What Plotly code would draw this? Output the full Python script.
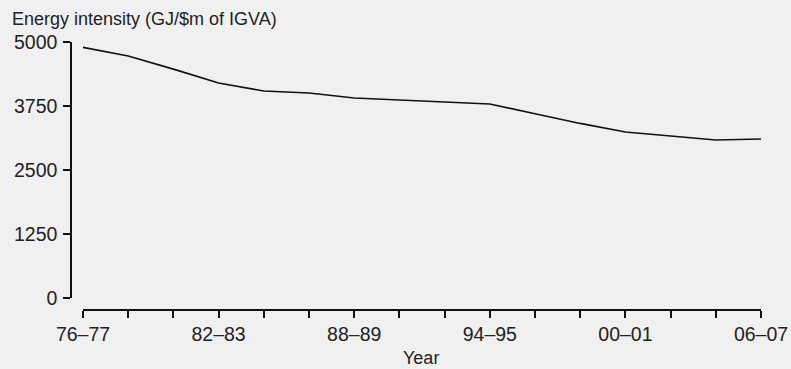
import plotly.graph_objects as go

years = ["76–77", "78–79", "80–81", "82–83", "84–85", "86–87", "88–89", "90–91",
         "92–93", "94–95", "96–97", "98–99", "00–01", "02–03", "04–05", "06–07"]
intensity = [4896, 4727, 4470, 4199, 4043, 4004, 3906, 3867,
             3828, 3789, 3600, 3410, 3242, 3164, 3086, 3105]
y_ticks = [0, 1250, 2500, 3750, 5000]
x_labels = [y if i % 3 == 0 else "" for i, y in enumerate(years)]

W, H = 791, 369
L, R, T, B = 71, 30, 42, 59
pw, ph = W - L - R, H - T - B
x_dom0 = (83 - L) / pw
y_dom0 = (310 - 298) / ph

font = "Liberation Sans, Arial, sans-serif"
txt = "#222222"
bg = "#f0f0f0"

fig = go.Figure(go.Scatter(
    x=years, y=intensity, mode="lines",
    line=dict(color="#111111", width=1.6),
    hoverinfo="skip"))

fig.update_layout(
    width=W, height=H, autosize=False,
    margin=dict(l=L, r=R, t=T, b=B, pad=0, autoexpand=False),
    paper_bgcolor=bg, plot_bgcolor=bg,
    showlegend=False,
    font=dict(family=font, color=txt, size=19),
    xaxis=dict(
        type="category", domain=[x_dom0, 1], anchor="free", position=0,
        range=[0, len(years) - 1], automargin=False,
        tickmode="array", tickvals=years, ticktext=x_labels,
        ticks="outside", ticklen=7, tickwidth=1.5, tickcolor="#111111",
        showline=True, linecolor="#111111", linewidth=1.5,
        showgrid=False, zeroline=False,
        tickfont=dict(size=19.5, color=txt),
    ),
    yaxis=dict(
        domain=[y_dom0, 1], anchor="free", position=0, automargin=False,
        range=[0, 5000], tickvals=y_ticks,
        ticks="outside", ticklen=7, tickwidth=1.5, tickcolor="#111111",
        showline=True, linecolor="#111111", linewidth=1.5,
        showgrid=False, zeroline=False,
        tickfont=dict(size=19.5, color=txt),
        ticklabelstandoff=2,
    ),
    annotations=[
        dict(text="Energy intensity (GJ/$m of IGVA)", xref="paper", yref="paper",
             x=(10 - L) / pw, y=(H - B - 19) / ph, xanchor="left", yanchor="middle",
             showarrow=False, font=dict(size=18, color=txt)),
        dict(text="Year", xref="paper", yref="paper",
             x=(421 - L) / pw, y=(H - B - 358) / ph, xanchor="center", yanchor="middle",
             showarrow=False, font=dict(size=18, color=txt)),
    ],
)

fig.write_html("out.html", config={"displayModeBar": False},
               post_script="document.body.style.margin='0';document.body.style.background='#f0f0f0';")
